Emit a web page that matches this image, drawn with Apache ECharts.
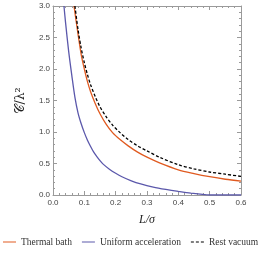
<!DOCTYPE html>
<html>
<head>
<meta charset="utf-8">
<script src="https://cdn.jsdelivr.net/npm/echarts@6/dist/echarts.min.js"></script>
<style>
html,body{margin:0;padding:0;background:#fff;}
#c{width:266px;height:254px;}
</style>
</head>
<body>
<div id="c"></div>
<script>
// Data
const thermalL = [0.067,0.08,0.09,0.10,0.11,0.12,0.135,0.15,0.17,0.19,0.214,0.24,0.27,0.30,0.34,0.40,0.45,0.50,0.55,0.60];
const thermalV = [3.0,2.55,2.23,2.0,1.80,1.64,1.45,1.29,1.12,0.99,0.88,0.78,0.68,0.60,0.51,0.40,0.34,0.29,0.25,0.22];

const uniformL = [0.035,0.04,0.05,0.06,0.07,0.08,0.09,0.10,0.11,0.12,0.13,0.14,0.15,0.16,0.18,0.20,0.22,0.25,0.28,0.32,0.36,0.40,0.44,0.47,0.50,0.55,0.60];
const uniformV = [3.0,2.74,2.28,1.90,1.55,1.30,1.13,0.99,0.87,0.77,0.68,0.61,0.545,0.49,0.41,0.345,0.29,0.225,0.175,0.125,0.088,0.057,0.03,0.013,0.0,0.0,0.0];

const restL = [0.07,0.08,0.09,0.10,0.11,0.12,0.135,0.15,0.17,0.19,0.214,0.24,0.27,0.30,0.34,0.40,0.45,0.50,0.55,0.60];
const restV = [3.0,2.62,2.33,2.10,1.91,1.75,1.56,1.40,1.24,1.11,0.99,0.88,0.78,0.70,0.60,0.48,0.415,0.365,0.33,0.295];

const seriesNames = ["Thermal bath","Uniform acceleration","Rest vacuum"];
const xTicks = {min:0, max:0.6, interval:0.1};
const yTicks = {min:0, max:3.0, interval:0.5};

const zip = (a,b) => a.map((x,i)=>[x,b[i]]);

const axisColor = '#9a9a9a';
const labelFont = {fontFamily:'Liberation Sans', fontSize:8, color:'#444'};

function xAx(pos, showLabel){
  return {
    type:'value', position:pos, min:xTicks.min, max:xTicks.max, interval:xTicks.interval,
    axisLine:{show:true, onZero:false, lineStyle:{color:axisColor, width:1}},
    axisTick:{show:true, inside:true, length:4, lineStyle:{color:axisColor}},
    minorTick:{show:true, splitNumber:5, length:2, lineStyle:{color:axisColor}},
    splitLine:{show:false},
    axisLabel:Object.assign({show:showLabel, margin:4, formatter:v=>v.toFixed(1)}, labelFont),
    name: showLabel ? 'L/σ' : '',
    nameLocation:'middle', nameGap:19,
    nameTextStyle:{fontFamily:'Liberation Serif', fontStyle:'italic', fontSize:12, color:'#222'}
  };
}
function yAx(pos, showLabel){
  return {
    type:'value', position:pos, min:yTicks.min, max:yTicks.max, interval:yTicks.interval,
    axisLine:{show:true, onZero:false, lineStyle:{color:axisColor, width:1}},
    axisTick:{show:true, inside:true, length:4, lineStyle:{color:axisColor}},
    minorTick:{show:true, splitNumber:5, length:2, lineStyle:{color:axisColor}},
    splitLine:{show:false},
    axisLabel:Object.assign({show:showLabel, margin:3, formatter:v=>v.toFixed(1)}, labelFont),
    name: showLabel ? '𝒞/λ²' : '',
    nameLocation:'middle', nameGap:26, nameRotate:90,
    nameTextStyle:{fontFamily:'DejaVu Serif', fontSize:12.5, color:'#222'}
  };
}

const solidIcon = 'path://M0,0h13v1h-13z';
const dashIcon = 'path://M0,0h3v1h-3zM5,0h3v1h-3zM10,0h3v1h-3z';
const colors = ['#e05a20','#5b58ab','#000000'];

const chart = echarts.init(document.getElementById('c'), null, {renderer:'canvas'});
chart.setOption({
  animation:false,
  backgroundColor:'#fff',
  grid:{left:53, right:25, top:6, bottom:59},
  xAxis:[xAx('bottom', true), xAx('top', false)],
  yAxis:[yAx('left', true), yAx('right', false)],
  legend:{
    bottom:7, left:3, padding:0, itemGap:10, itemWidth:13, itemHeight:1.2,
    textStyle:{fontFamily:'Liberation Serif', fontSize:9.5, color:'#333'},
    data:[
      {name:seriesNames[0], icon:solidIcon, itemStyle:{color:colors[0]}},
      {name:seriesNames[1], icon:solidIcon, itemStyle:{color:colors[1]}},
      {name:seriesNames[2], icon:dashIcon, itemStyle:{color:colors[2]}}
    ]
  },
  series:[
    {name:seriesNames[0], type:'line', data:zip(thermalL, thermalV), smooth:0.3, symbol:'none',
     lineStyle:{color:colors[0], width:1.3}, itemStyle:{color:colors[0]}, clip:true},
    {name:seriesNames[1], type:'line', data:zip(uniformL, uniformV), smooth:0.3, symbol:'none',
     lineStyle:{color:colors[1], width:1.3}, itemStyle:{color:colors[1]}, clip:true},
    {name:seriesNames[2], type:'line', data:zip(restL, restV), smooth:0.3, symbol:'none',
     lineStyle:{color:colors[2], width:1.3, type:[3,2]}, itemStyle:{color:colors[2]}, clip:true}
  ]
});
</script>
</body>
</html>
